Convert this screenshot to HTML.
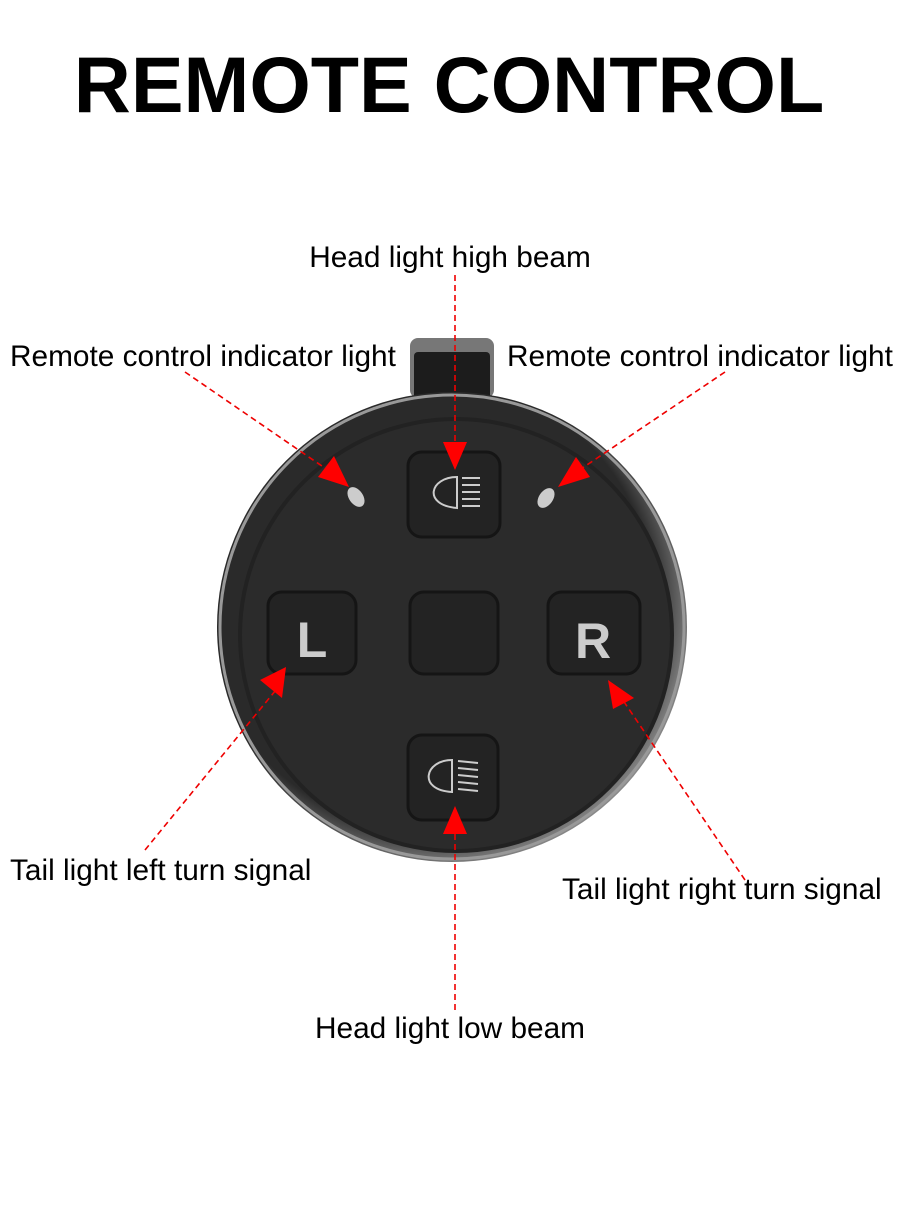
<!DOCTYPE html>
<html><head><style>
body{margin:0;background:#fff;width:900px;height:1200px;overflow:hidden;font-family:"Liberation Sans",sans-serif}
</style></head><body>
<svg width="900" height="1200" viewBox="0 0 900 1200" xmlns="http://www.w3.org/2000/svg">
<defs>
<radialGradient id="rim" cx="0.45" cy="0.45" r="0.6"><stop offset="0.8" stop-color="#2a2a2a"/><stop offset="0.95" stop-color="#8a8a8a"/><stop offset="1" stop-color="#555"/></radialGradient>
</defs>
<text x="449" y="112" text-anchor="middle" font-size="79" font-weight="bold" fill="#000" font-family="Liberation Sans">REMOTE CONTROL</text>
<rect x="410" y="338" width="84" height="60" rx="8" fill="#777"/>
<rect x="414" y="352" width="76" height="50" rx="4" fill="#1c1c1c"/>
<circle cx="452" cy="627" r="235" fill="url(#rim)"/>
<circle cx="452" cy="627" r="232" fill="none" stroke="#999" stroke-width="3"/>
<circle cx="456" cy="635" r="218" fill="#222"/>
<circle cx="456" cy="635" r="214" fill="#2b2b2b"/>
<g fill="#232323" stroke="#151515" stroke-width="3">
<rect x="408" y="452" width="92" height="85" rx="14"/>
<rect x="268" y="592" width="88" height="82" rx="14"/>
<rect x="410" y="592" width="88" height="82" rx="14"/>
<rect x="548" y="592" width="92" height="82" rx="14"/>
<rect x="408" y="735" width="90" height="85" rx="14"/>
</g>
<g fill="none" stroke="#ccc" stroke-width="2">
<path d="M457 477 C430 477 422 505 457 508 Z"/>
<path d="M462 478h18M462 485h18M462 492h18M462 499h18M462 506h18"/>
<path d="M452 760 C425 760 417 790 452 792 Z"/>
<path d="M458 761l20 2M458 768l20 2M458 775l20 2M458 782l20 2M458 789l20 2"/>
</g>
<text x="312" y="657" text-anchor="middle" font-size="50" font-weight="bold" fill="#ccc">L</text>
<text x="593" y="658" text-anchor="middle" font-size="50" font-weight="bold" fill="#ccc">R</text>
<ellipse cx="356" cy="497" rx="7" ry="11" transform="rotate(-35 356 497)" fill="#ccc"/>
<ellipse cx="546" cy="498" rx="7" ry="11" transform="rotate(35 546 498)" fill="#ccc"/>
<g stroke="#e00" stroke-width="1.6" stroke-dasharray="6,4" fill="none">
<line x1="455" y1="275" x2="455" y2="455"/>
<line x1="185" y1="372" x2="335" y2="475"/>
<line x1="725" y1="372" x2="572" y2="475"/>
<line x1="145" y1="850" x2="280" y2="685"/>
<line x1="745" y1="880" x2="618" y2="693"/>
<line x1="455" y1="1010" x2="455" y2="822"/>
</g>
<g fill="#f00">
<polygon points="455,470 443,442 467,442"/>
<polygon points="349,487 318,477 334,456"/>
<polygon points="558,487 590,477 576,457"/>
<polygon points="286,667 282,698 260,680"/>
<polygon points="608,680 634,698 613,709"/>
<polygon points="455,806 443,834 467,834"/>
</g>
<g font-size="29.8" fill="#000" font-family="Liberation Sans">
<text x="450" y="267" text-anchor="middle">Head light high beam</text>
<text x="10" y="366">Remote control indicator light</text>
<text x="507" y="366">Remote control indicator light</text>
<text x="10" y="880">Tail light left turn signal</text>
<text x="562" y="899">Tail light right turn signal</text>
<text x="450" y="1038" text-anchor="middle">Head light low beam</text>
</g>
</svg>
</body></html>
